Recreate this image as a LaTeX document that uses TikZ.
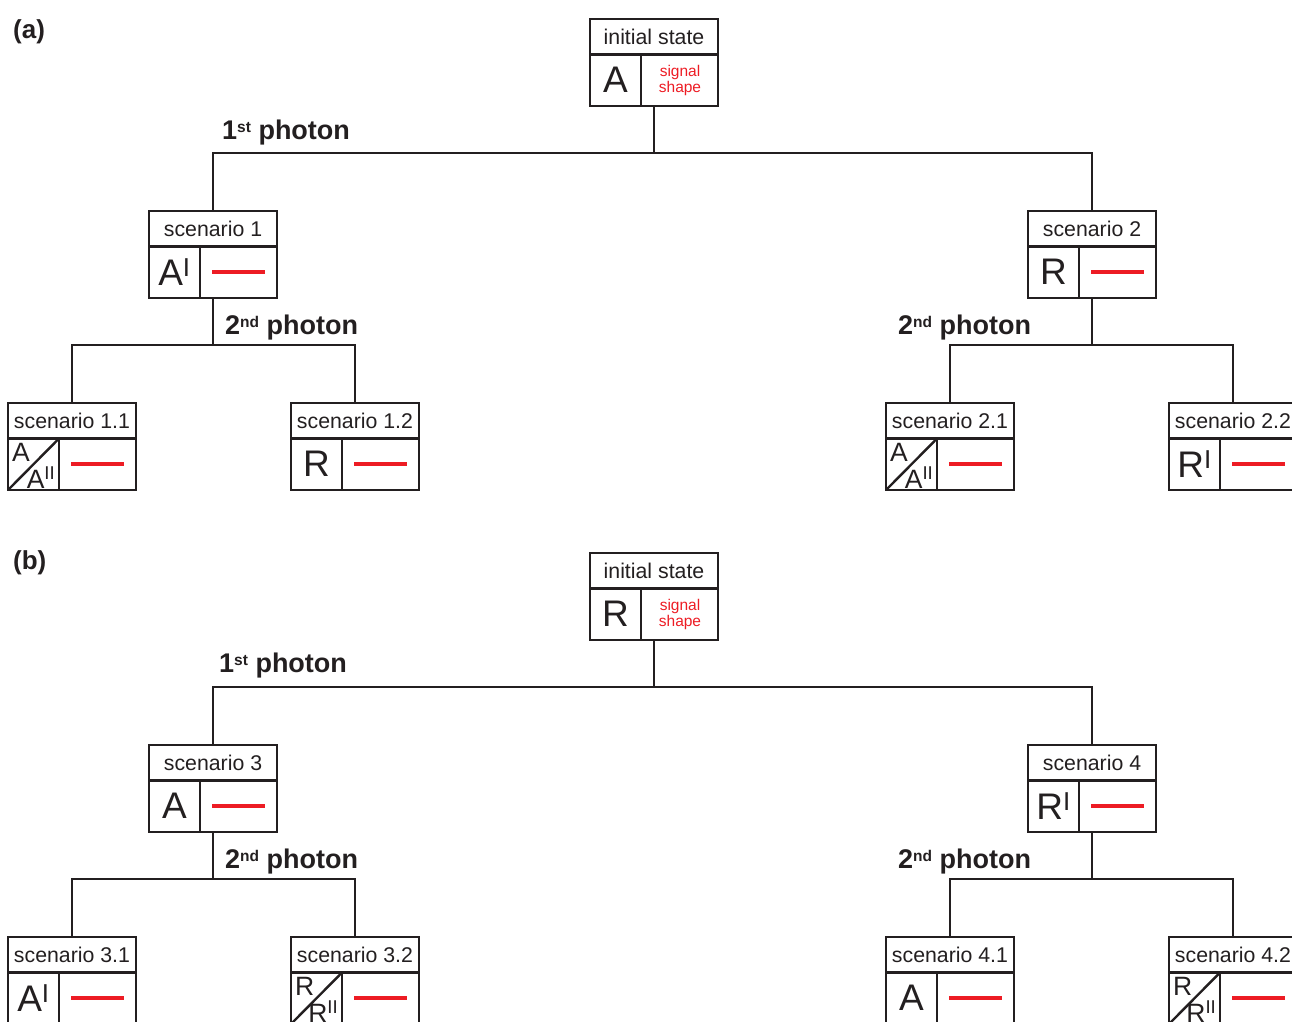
\documentclass[tikz,border=0pt]{standalone}
\usepackage{fontspec}
\setmainfont{Liberation Sans}
\definecolor{sigred}{RGB}{237,28,36}
\definecolor{ink}{RGB}{35,31,32}
\tikzset{
  sbox/.style={draw=ink, line width=2.4pt, minimum width=128pt, minimum height=87pt, inner sep=0pt, outer sep=0pt, anchor=north west},
  bline/.style={draw=ink, line width=2.4pt},
  conn/.style={draw=ink, line width=2.2pt},
  ttl/.style={inner sep=0pt, font=\fontsize{21.3}{22}\selectfont, text=ink},
  bigl/.style={inner sep=0pt, font=\fontsize{37}{37}\selectfont, text=ink},
  smalll/.style={inner sep=0pt, font=\fontsize{26.5}{26.5}\selectfont, text=ink},
  sig/.style={draw=sigred, line width=4pt},
  plabel/.style={inner sep=0pt, anchor=base west, font=\bfseries\fontsize{27}{27}\selectfont, text=ink},
  panel/.style={inner sep=0pt, anchor=base west, font=\bfseries\fontsize{26}{26}\selectfont, text=ink}
}
\newcommand\supx[1]{\raisebox{7pt}{\fontsize{15.5}{15.5}\selectfont #1}}
% name, x, y, title, left content
\newcommand\scframe[5]{%
  \node[sbox] (#1) at (#2,#3) {};
  \draw[bline] ([yshift=-35.5pt]#1.north west) -- ([yshift=-35.5pt]#1.north east);
  \draw[bline] ([xshift=51pt,yshift=-35.5pt]#1.north west) -- ([xshift=51pt]#1.south west);
  \node[ttl] (#1-t) at ([yshift=-18pt]#1.north) {#4};
  \node[bigl] (#1-l) at ([xshift=25.5pt,yshift=-61pt]#1.north west) {#5};
}
\newcommand\scbox[5]{%
  \scframe{#1}{#2}{#3}{#4}{#5}
  \draw[sig] ([xshift=63pt,yshift=-61pt]#1.north west) -- ([xshift=116pt,yshift=-61pt]#1.north west);
}
\newcommand\initbox[4]{%
  \scframe{#1}{#2}{#3}{initial state}{#4}
  \node[inner sep=0pt, align=center, text=sigred, font=\fontsize{15.5}{16}\selectfont] (#1-s)
    at ([xshift=90pt,yshift=-61pt]#1.north west) {signal\\shape};
}
\newcommand\diagcell[2]{%
  \draw[bline] (#1.south west) -- ([xshift=51pt,yshift=-35.5pt]#1.north west);
  \node[smalll, anchor=north west] (#1-a) at ([xshift=4pt,yshift=-40.5pt]#1.north west) {#2};
  \node[smalll, anchor=base east] (#1-b) at ([xshift=47.5pt,yshift=1.5pt]#1.south west) {#2\textsuperscript{II}};
}
\begin{document}
\begin{tikzpicture}[x=1pt,y=-1pt]
\useasboundingbox (0,0) rectangle (1292,1021);
\clip (0,0) rectangle (1292,1021);

% ---------------- panel (a)
\node[panel] (pa) at (13,38) {(a)};
\initbox{ia}{590}{19}{A}
\scbox{s1}{149}{211}{scenario 1}{A\textsuperscript{I}}
\scbox{s2}{1028}{211}{scenario 2}{R}
\scbox{s11}{8}{403}{scenario 1.1}{}
\diagcell{s11}{A}
\scbox{s12}{291}{403}{scenario 1.2}{R}
\scbox{s21}{886}{403}{scenario 2.1}{}
\diagcell{s21}{A}
\scbox{s22}{1169}{403}{scenario 2.2}{R\textsuperscript{I}}

\coordinate (ja) at (654,153);
\draw[conn] (ia.south) -- (ja);
\draw[conn] (ja) -| (s1.north);
\draw[conn] (ja) -| (s2.north);
\coordinate (j1) at (213,345);
\draw[conn] (s1.south) -- (j1);
\draw[conn] (j1) -| (s11.north);
\draw[conn] (j1) -| (s12.north);
\coordinate (j2) at (1092,345);
\draw[conn] (s2.south) -- (j2);
\draw[conn] (j2) -| (s21.north);
\draw[conn] (j2) -| (s22.north);

\node[plabel] (la1) at (222,139) {1\supx{st} photon};
\node[plabel] (la2) at (225,334) {2\supx{nd} photon};
\node[plabel] (la3) at (898,334) {2\supx{nd} photon};

% ---------------- panel (b)
\node[panel] (pb) at (13,569) {(b)};
\initbox{ib}{590}{553}{R}
\scbox{s3}{149}{745}{scenario 3}{A}
\scbox{s4}{1028}{745}{scenario 4}{R\textsuperscript{I}}
\scbox{s31}{8}{937}{scenario 3.1}{A\textsuperscript{I}}
\scbox{s32}{291}{937}{scenario 3.2}{}
\diagcell{s32}{R}
\scbox{s41}{886}{937}{scenario 4.1}{A}
\scbox{s42}{1169}{937}{scenario 4.2}{}
\diagcell{s42}{R}

\coordinate (jb) at (654,687);
\draw[conn] (ib.south) -- (jb);
\draw[conn] (jb) -| (s3.north);
\draw[conn] (jb) -| (s4.north);
\coordinate (j3) at (213,879);
\draw[conn] (s3.south) -- (j3);
\draw[conn] (j3) -| (s31.north);
\draw[conn] (j3) -| (s32.north);
\coordinate (j4) at (1092,879);
\draw[conn] (s4.south) -- (j4);
\draw[conn] (j4) -| (s41.north);
\draw[conn] (j4) -| (s42.north);

\node[plabel] (lb1) at (219,672) {1\supx{st} photon};
\node[plabel] (lb2) at (225,868) {2\supx{nd} photon};
\node[plabel] (lb3) at (898,868) {2\supx{nd} photon};
\end{tikzpicture}
\end{document}
